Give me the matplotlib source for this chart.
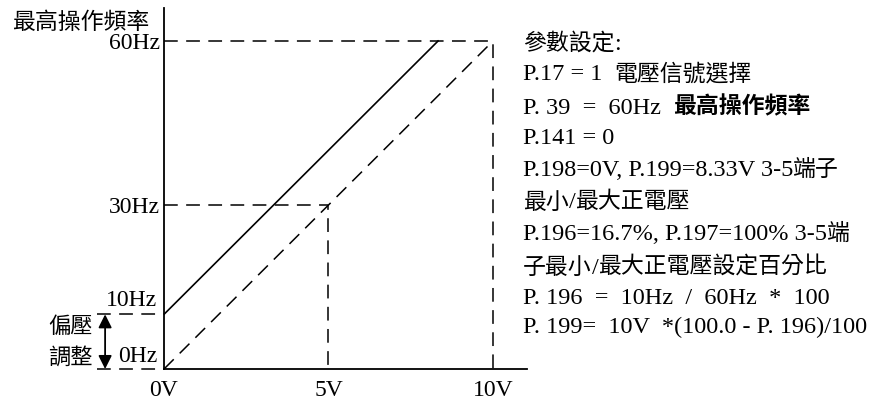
import re
import matplotlib
matplotlib.use("Agg")
import matplotlib.pyplot as plt

# data
volts = [0, 5, 10]
volt_labels = ["0V", "5V", "10V"]
freq_max = 60        # P.39
freq_bias = 10       # bias at 0V
freq_mid = 30        # output at 5V without bias
v_at_max = 8.33      # P.199
freq_ticks = [30, 60]
freq_labels = ["30Hz", "60Hz"]

notes = [
    ("參數設定:", "normal"),
    ("P.17 = 1  電壓信號選擇", "normal"),
    ("P. 39  =  60Hz  最高操作頻率", "bold"),
    ("P.141 = 0", "normal"),
    ("P.198=0V, P.199=8.33V 3-5端子", "normal"),
    ("最小/最大正電壓", "normal"),
    ("P.196=16.7%, P.197=100% 3-5端", "normal"),
    ("子最小/最大正電壓設定百分比", "normal"),
    ("P. 196  =  10Hz  /  60Hz  *  100", "normal"),
    ("P. 199=  10V  *(100.0 - P. 196)/100", "normal"),
]

SERIF = "Liberation Serif"
CJK = "Noto Sans CJK TC"
plt.rcParams["font.family"] = [SERIF, CJK]

W, H = 876, 401
fig = plt.figure(figsize=(W / 100, H / 100), dpi=100)

# axes: origin at (164, 369) px, 10V at 493 px, 60Hz at 41 px
x0, y0, x1, y1 = 164, 369, 527, 8
ax = fig.add_axes([x0 / W, (H - y0) / H, (x1 - x0) / W, (y0 - y1) / H])
pxv = (493 - x0) / 10
pxhz = (y0 - 41) / 60
ax.set_xlim(0, (x1 - x0) / pxv)
ax.set_ylim(0, (y0 - y1) / pxhz)
for s in ["top", "right"]:
    ax.spines[s].set_visible(False)
for s in ["left", "bottom"]:
    ax.spines[s].set_linewidth(1.3)
ax.patch.set_alpha(0)

ax.set_xticks(volts, volt_labels, fontsize=17)
ax.set_yticks(freq_ticks, freq_labels, fontsize=17)
ax.tick_params(length=0, pad=3)
ax.tick_params(axis="x", pad=8)

dash = dict(color="black", lw=1.1, linestyle=(0, (9, 5.5)), clip_on=False)

# bias line: 10Hz at 0V -> 60Hz at 8.33V
ax.plot([0, v_at_max], [freq_bias, freq_max], color="black", lw=1.2)
# reference line 0V->10V : 0Hz->60Hz
ax.plot([volts[0], volts[2]], [0, freq_max], **dash)
# guide lines
ax.plot([0, volts[2], volts[2]], [freq_max, freq_max, 0], **dash)
ax.plot([0, volts[1], volts[1]], [freq_mid, freq_mid, 0], **dash)
ax.plot([-2.05, 0], [freq_bias, freq_bias], **dash)
ax.plot([-2.05, 0], [0, 0], **dash)

# bias arrow
ax.annotate("", xy=(-1.79, 0), xytext=(-1.79, freq_bias),
            arrowprops=dict(arrowstyle="<|-|>", color="black", lw=1.3,
                            mutation_scale=20, shrinkA=0, shrinkB=0),
            annotation_clip=False)

ax.text(-0.2, freq_bias + 0.7, "10Hz", ha="right", va="bottom", fontsize=17, clip_on=False)
ax.text(-0.2, 0.4, "0Hz", ha="right", va="bottom", fontsize=17, clip_on=False)
ax.text(-2.85, 7.7, "偏壓", ha="center", va="center", fontsize=16, family=CJK, clip_on=False)
ax.text(-2.85, 2.2, "調整", ha="center", va="center", fontsize=16, family=CJK, clip_on=False)

fig.text(12 / W, 1 - 22 / H, "最高操作頻率", ha="left", va="center", fontsize=16.5, family=CJK)

# parameter notes: latin runs in serif, CJK runs in Noto
renderer = fig.canvas.get_renderer()
cjk_re = re.compile(r"[\u2E80-\u9FFF\uFF00-\uFFEF]+|[^\u2E80-\u9FFF\uFF00-\uFFEF]+")


def run_width(seg, **kw):
    a = fig.text(0, 0, seg + "|", **kw)
    b = fig.text(0, 0, "|", **kw)
    w = a.get_window_extent(renderer).width - b.get_window_extent(renderer).width
    a.remove()
    b.remove()
    return w


ys = [42, 73, 106, 137, 168, 201, 232, 266, 297, 326]
for (txt, wt), yy in zip(notes, ys):
    x = 523
    for seg in cjk_re.findall(txt):
        if re.match(r"[\u2E80-\u9FFF\uFF00-\uFFEF]", seg):
            kw = dict(family=CJK, fontsize=16.5, fontweight=wt)
        else:
            kw = dict(family=SERIF, fontsize=17.5)
        fig.text(x / W, 1 - (yy + 7.5) / H, seg, ha="left", va="baseline", **kw)
        x += run_width(seg, **kw)

fig.savefig("out.png", dpi=100)
